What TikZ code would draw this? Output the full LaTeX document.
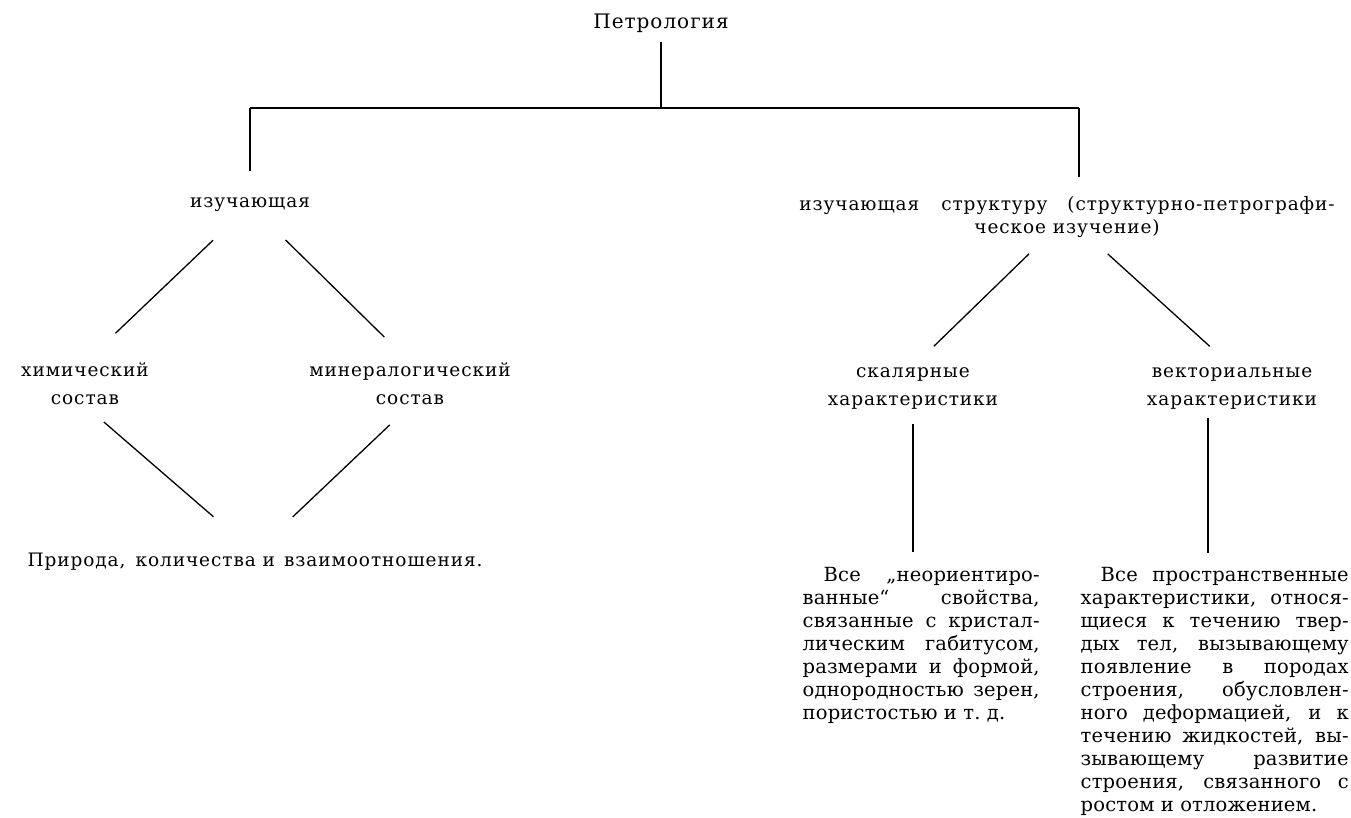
\documentclass[tikz,border=0pt]{standalone}
\usepackage{fontspec}
\setmainfont{DejaVu Serif}
\newfontfamily\termfont[LetterSpace=5]{DejaVu Serif}
\newfontfamily\blockfont[LetterSpace=1]{DejaVu Serif}
\begin{document}
\begin{tikzpicture}[x=1pt,y=-1pt,line width=1.3pt,
  term/.style={inner sep=0pt,align=center,font=\termfont\fontsize{18.5}{28}\selectfont},
  block/.style={inner sep=0pt,anchor=north west,align=justify,font=\blockfont\fontsize{19.5}{23}\selectfont}]
\useasboundingbox (0,0) rectangle (1351,818);
% terms
\node [term,font=\termfont\fontsize{20}{28}\selectfont] (petro) at (661,23) {Петрология};
\node [term] (izL) at (250,205) {изучающая};
\node [term,font=\termfont\fontsize{18.5}{23}\selectfont] (hdrR) at (1067,217)
  {изучающая\hspace{22pt}структуру\hspace{20pt}(структурно-петрографи-\\ческое изучение)};
\node [term] (chem) at (85,384) {химический\\состав};
\node [term] (mine) at (410,384) {минералогический\\состав};
\node [term] (prir) at (255,562) {Природа,\hspace{10pt}количества и\hspace{9pt}взаимоотношения.};
\node [term] (skal) at (913,388) {скалярные\\характеристики};
\node [term] (vekt) at (1232,388) {векториальные\\характеристики};
% text blocks
\node [block,text width=237pt] (blockL) at (802,567)
  {\hspace*{21pt}Все „неориентиро-\linebreak ванные“ свойства,\linebreak
   связанные с кристал-\linebreak лическим габитусом,\linebreak
   размерами и формой,\linebreak однородностью зерен,\linebreak
   пористостью и т.~д.};
\node [block,text width=268pt] (blockR) at (1080,567)
  {\hspace*{20pt}Все пространственные\linebreak характеристики, относя-\linebreak
   щиеся к течению твер-\linebreak дых тел, вызывающему\linebreak
   появление в породах\linebreak строения, обусловлен-\linebreak
   ного деформацией, и к\linebreak течению жидкостей, вы-\linebreak
   зывающему развитие\linebreak строения, связанного с\linebreak
   ростом и отложением.};
% connectors
\coordinate (fork) at (661,108);
\coordinate (forkR) at (1079,108);
\draw [shorten <=9pt] (petro.south) -- (fork);
\draw (izL.north |- fork) -- (forkR);
\draw [shorten >=26pt] (izL.north |- fork) -- (izL.north);
\draw [shorten >=19pt] (forkR) -- (forkR |- hdrR.north);
\draw [shorten <=51pt,shorten >=42pt] (izL.center) -- (chem.north);
\draw [shorten <=50pt,shorten >=36pt] (izL.center) -- (mine.north);
\draw [shorten <=25pt,shorten >=55pt] (chem.south) -- (prir.north);
\draw [shorten <=28pt,shorten >=52pt] (mine.south) -- (prir.north);
\draw [shorten <=53pt,shorten >=29pt] (hdrR.center) -- (skal.north);
\draw [shorten <=55pt,shorten >=30pt] (hdrR.center) -- (vekt.north);
\draw [shorten <=14pt,shorten >=15pt] (skal.south) -- (skal.south |- blockL.north);
\coordinate (vektfoot) at ([xshift=-24pt]vekt.south);
\draw [shorten <=8pt,shorten >=14pt] (vektfoot) -- (vektfoot |- blockR.north);
\end{tikzpicture}
\end{document}
